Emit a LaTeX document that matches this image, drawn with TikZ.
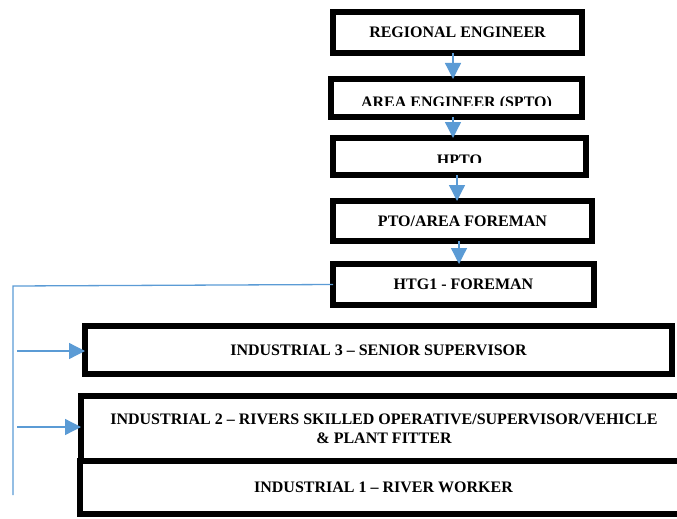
\documentclass[tikz,border=0pt]{standalone}
\usepackage{fontspec}
\setmainfont{Liberation Serif}
\usetikzlibrary{arrows.meta}
\definecolor{conblue}{RGB}{91,155,213}
\tikzset{
  rolebox/.style={draw=black, line width=6pt, fill=white, rectangle, inner sep=0pt, outer sep=0pt,
    font=\fontsize{16}{19}\selectfont\bfseries, align=center},
  rolelabel/.style={inner sep=0pt, font=\fontsize{16}{19}\selectfont\bfseries, align=center},
  conn/.style={draw=conblue, line width=1.3pt},
  connarrow/.style={conn, -{Triangle[width=16pt,length=16pt]}}
}
\begin{document}
\begin{tikzpicture}[x=1pt,y=-1pt]
\useasboundingbox (0,0) rectangle (677,519);
\begin{scope}
\clip (0,0) rectangle (677,519);
% top chain
\node[rolebox, minimum width=249pt, minimum height=41pt] (re) at (457.5,32.5) {REGIONAL ENGINEER};
\node[rolebox, minimum width=251pt, minimum height=38pt] (ae) at (456.5,98) {};
\node[rolebox, minimum width=253pt, minimum height=37pt] (hp) at (459.5,156.5) {};
\node[rolebox, minimum width=259pt, minimum height=40pt] (pto) at (462.5,221) {PTO/AREA FOREMAN};
\node[rolebox, minimum width=261pt, minimum height=41pt] (htg) at (463.5,284.5) {HTG1 - FOREMAN};
\begin{scope}
\clip (300,80) rectangle (620,105);
\node[rolelabel] (aet) at (456.5,104) {AREA ENGINEER (SPTO)};
\end{scope}
\begin{scope}
\clip (300,139) rectangle (620,162.5);
\node[rolelabel] (hpt) at (459.5,160) {HPTO};
\end{scope}
% industrial boxes
\node[rolebox, minimum width=587pt, minimum height=48pt] (ind3) at (378.5,350) {INDUSTRIAL 3 -- SENIOR SUPERVISOR};
\node[rolebox, minimum width=606pt, minimum height=65pt] (ind2) at (384,428.5) {INDUSTRIAL 2 -- RIVERS SKILLED OPERATIVE/SUPERVISOR/VEHICLE\\ \& PLANT FITTER};
\node[rolebox, minimum width=607pt, minimum height=53pt] (ind1) at (383.5,487.5) {INDUSTRIAL 1 -- RIVER WORKER};
\end{scope}
% vertical arrows
\draw[connarrow] ([xshift=-4.5pt]re.south) -- ([xshift=-4.5pt]re.south |- ae.north);
\draw[connarrow] ([xshift=-3.5pt]ae.south) -- ([xshift=-3.5pt]ae.south |- hp.north);
\draw[connarrow] ([xshift=-2.5pt]hp.south) -- ([xshift=-2.5pt]hp.south |- pto.north);
\draw[connarrow] ([xshift=-3.5pt]pto.south) -- ([xshift=-3.5pt]pto.south |- htg.north);
% side bracket
\coordinate (bt) at (13,286);
\coordinate (bb) at (13,495);
\coordinate (a3) at (17,351);
\coordinate (a2) at (17,427);
\draw[conn] (htg.west) -- (bt) -- (bb);
\draw[connarrow] (a3) -- (ind3.west |- a3);
\draw[connarrow] (a2) -- (ind2.west |- a2);
\end{tikzpicture}
\end{document}
